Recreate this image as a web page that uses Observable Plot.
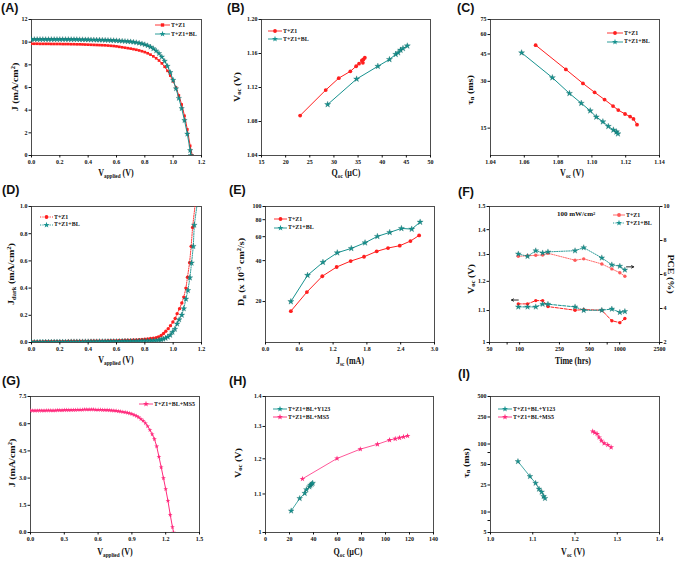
<!DOCTYPE html>
<html><head><meta charset="utf-8">
<script src="https://cdn.jsdelivr.net/npm/d3@7"></script>
<script src="https://cdn.jsdelivr.net/npm/@observablehq/plot@0.6"></script>
<style>
body{margin:0;background:#fff;}
#root{position:relative;width:676px;height:561px;overflow:hidden;background:#fff;font-family:"Liberation Serif","Times New Roman",serif;color:#111}
.lbl{position:absolute;font-weight:bold;font-size:10px;white-space:nowrap;line-height:1}
.lbl sub{font-size:6.5px;vertical-align:-2px}
.lbl sup{font-size:6.5px;vertical-align:4px}
.pl{position:absolute;font-family:"Liberation Sans",Arial,sans-serif;font-weight:bold;font-size:12.5px;line-height:13px}
.leg{position:absolute;font-weight:bold;font-size:7px;white-space:nowrap;line-height:1;display:flex;align-items:center}
.leg sup{font-size:4.5px;vertical-align:3px}
</style></head><body><div id="root"></div><script>
const RED = "#ff1f1f", TEAL = "#17928f", PINK = "#ff2b7d";

// ---------- (A) J-V ----------
const aVolt = [0,0.02,0.04,0.06,0.08,0.1,0.12,0.14,0.16,0.18,0.2,0.22,0.24,0.26,0.28,0.3,0.32,0.34,0.36,0.38,0.4,0.42,0.44,0.46,0.48,0.5,0.52,0.54,0.56,0.58,0.6,0.62,0.64,0.66,0.68,0.7,0.72,0.74,0.76,0.78,0.8,0.82,0.84,0.86,0.88,0.9,0.92,0.94,0.96,0.98,1.0,1.02,1.04,1.06,1.08,1.1,1.12];
const aJ_TZ1 = [9.86,9.86,9.86,9.85,9.85,9.85,9.85,9.84,9.84,9.84,9.84,
  9.83,9.83,9.83,9.82,9.82,9.81,9.81,9.80,9.79,9.78,
  9.77,9.76,9.75,9.74,9.73,9.72,9.70,9.68,9.66,9.63,
  9.59,9.55,9.51,9.47,9.43,9.38,9.33,9.27,9.20,9.12,
  9.02,8.90,8.75,8.58,8.38,8.13,7.83,7.47,7.05,6.55,
  6.00,5.30,4.50,3.50,2.30,0.85];
const aJ_TZ1BL = [10.25,10.25,10.25,10.25,10.25,10.25,10.25,10.25,10.25,10.25,10.25,
  10.25,10.25,10.25,10.24,10.24,10.24,10.23,10.23,10.22,10.22,
  10.21,10.21,10.20,10.20,10.19,10.18,10.17,10.16,10.15,10.14,
  10.12,10.10,10.08,10.06,10.04,10.01,9.97,9.92,9.86,9.79,
  9.70,9.58,9.43,9.24,9.00,8.70,8.33,7.88,7.33,6.65,
  5.90,5.05,4.15,3.10,1.90,0.45];
const aEndTZ1 = [1.135, 0], aEndTZ1BL = [1.125, 0];
const aXTicks = [0,0.2,0.4,0.6,0.8,1.0,1.2], aYTicks = [0,2,4,6,8,10,12];

// ---------- (B) Voc vs Qoc ----------
const bQ_TZ1 = [23.0,28.3,31.0,33.4,34.6,35.2,35.8,36.0,36.1,36.4];
const bV_TZ1 = [1.087,1.117,1.131,1.139,1.145,1.148,1.152,1.149,1.153,1.155];
const bQ_TZ1BL = [28.7,34.7,39.1,41.5,42.8,43.3,43.8,44.3,45.2];
const bV_TZ1BL = [1.100,1.130,1.145,1.153,1.159,1.161,1.164,1.166,1.169];
const bXTicks = [15,20,25,30,35,40,45,50], bYTicks = [1.04,1.08,1.12,1.16,1.20];

// ---------- (C) tau vs Voc ----------
const cV_TZ1 = [1.0667,1.0846,1.0947,1.1016,1.1075,1.1125,1.1156,1.1196,1.1226,1.1246,1.1267];
const cT_TZ1 = [51.3,35.8,29.1,25.5,22.9,20.8,19.6,18.5,17.8,17.2,15.8];
const cV_TZ1BL = [1.0584,1.0766,1.0867,1.0937,1.099,1.1026,1.1065,1.1097,1.1127,1.1145,1.1154];
const cT_TZ1BL = [45.8,31.7,25.1,21.7,19.4,17.7,16.5,15.4,14.6,14.2,13.8];
const cXTicks = [1.04,1.06,1.08,1.10,1.12,1.14], cYTicks = [15,30,45,60,75];

// ---------- (D) dark current ----------
const dVoltFlat = [0,0.02,0.04,0.06,0.08,0.1,0.12,0.14,0.16,0.18,0.2,0.22,0.24,0.26,0.28,0.3,0.32,0.34,0.36,0.38,0.4,0.42,0.44,0.46,0.48,0.5,0.52,0.54,0.56,0.58,0.6,0.62,0.64,0.66,0.68,0.7,0.72,0.74,0.76,0.78,0.8,0.82,0.84,0.86];
const dJFlat_TZ1 = [0.005,0.005,0.006,0.006,0.006,0.007,0.007,0.007,0.007,0.008,0.008,
  0.008,0.008,0.009,0.009,0.009,0.009,0.010,0.010,0.010,0.010,
  0.011,0.011,0.011,0.012,0.012,0.012,0.013,0.013,0.014,0.014,
  0.015,0.015,0.016,0.017,0.017,0.018,0.019,0.020,0.022,0.024,
  0.026,0.029,0.032];
const dJFlat_TZ1BL = [0.002,0.002,0.002,0.003,0.003,0.003,0.003,0.003,0.004,0.004,0.004,
  0.004,0.004,0.004,0.005,0.005,0.005,0.005,0.005,0.006,0.006,
  0.006,0.006,0.006,0.007,0.007,0.007,0.007,0.008,0.008,0.008,
  0.008,0.009,0.009,0.009,0.010,0.010,0.010,0.011,0.011,0.012,
  0.012,0.013,0.014];
const dVoltRise_TZ1 = [0.88,0.896,0.915,0.932,0.948,0.965,0.981,0.998,1.014,1.028,1.045,1.061,1.075,1.09,1.101,1.116,1.127,1.137,1.16];
const dJRise_TZ1 = [0.036,0.041,0.051,0.066,0.083,0.102,0.124,0.151,0.176,0.212,0.249,0.29,0.334,0.4,0.48,0.587,0.707,0.846,1.06];
const dVoltRise_TZ1BL = [0.88,0.9,0.915,0.93,0.946,0.962,0.979,0.995,1.012,1.028,1.042,1.061,1.075,1.09,1.104,1.118,1.13,1.142,1.149,1.175];
const dJRise_TZ1BL = [0.015,0.018,0.022,0.026,0.032,0.041,0.054,0.076,0.098,0.137,0.168,0.202,0.249,0.32,0.383,0.476,0.585,0.707,0.863,1.06];
const dYTicks = [0,0.2,0.4,0.6,0.8,1.0];

// ---------- (E) Dn vs Jsc ----------
const eJ_TZ1 = [0.45,0.735,1.008,1.263,1.512,1.749,1.974,2.175,2.383,2.573,2.727];
const eD_TZ1 = [17.0,23.5,30.7,35.9,39.7,42.7,46.8,49.5,51.5,55.7,61.3];
const eJ_TZ1BL = [0.45,0.747,1.02,1.274,1.523,1.767,1.986,2.205,2.413,2.596,2.745];
const eD_TZ1BL = [20.0,31.2,38.9,45.7,49.2,54.1,60.3,64.5,69.0,68.2,76.8];
const eXTicks = [0,0.6,1.2,1.8,2.4,3.0], eYTicks = [20,40,60,80,100];

// ---------- (F) stability ----------
const fTime = [97,120,145,170,192,358,437,663,835,1004,1127];
const fVoc_TZ1 = [1.122,1.122,1.133,1.133,1.113,1.101,1.103,1.101,1.067,1.061,1.074];
const fVoc_TZ1BL = [1.112,1.112,1.112,1.121,1.121,1.112,1.101,1.101,1.105,1.094,1.097];
const fPCE_TZ1 = [7.07,7.10,7.13,7.15,7.25,6.84,6.92,6.62,6.33,6.10,5.90];
const fPCE_TZ1BL = [7.21,7.07,7.40,7.27,7.33,7.40,7.58,6.98,6.57,6.49,6.27];
const fXTicks = [50,75,100,250,500,750,1000,2500], fVocTicks = [1,1.1,1.2,1.3,1.4,1.5], fPceTicks = [2,4,6,8,10];
const fArrowVoc = [{x1: 97, x2: 83, y: 1.135}];
const fArrowPce = [{x1: 1170, x2: 1380, y: 6.45}];

// ---------- (G) J-V MS5 ----------
const gVolt = [0,0.02,0.04,0.06,0.08,0.1,0.12,0.14,0.16,0.18,0.2,0.22,0.24,0.26,0.28,0.3,0.32,0.34,0.36,0.38,0.4,0.42,0.44,0.46,0.48,0.5,0.52,0.54,0.56,0.58,0.6,0.62,0.64,0.66,0.68,0.7,0.72,0.74,0.76,0.78,0.8,0.82,0.84,0.86,0.88,0.9,0.92,0.94,0.96,0.98,1.0,1.02,1.04,1.06,1.08,1.1,1.12,1.14,1.16,1.18,1.2,1.22,1.24,1.26,1.27];
const gJ_MS5 = [6.72,6.72,6.72,6.72,6.72,6.72,6.72,6.73,6.73,6.73,6.73,
  6.73,6.74,6.74,6.74,6.75,6.75,6.75,6.76,6.76,6.76,
  6.77,6.77,6.77,6.78,6.78,6.78,6.78,6.78,6.77,6.77,
  6.77,6.76,6.76,6.75,6.74,6.73,6.72,6.71,6.69,6.67,
  6.65,6.63,6.60,6.57,6.53,6.48,6.42,6.35,6.26,6.16,
  6.03,5.86,5.65,5.42,5.15,4.75,4.18,3.60,3.00,2.40,
  1.75,0.98,0.30,0];
const gXTicks = [0,0.3,0.6,0.9,1.2,1.5], gYTicks = [0,1.5,3,4.5,6,7.5];

// ---------- (H) Voc vs Qoc ----------
const hQ_Y123 = [21.4,28.5,32.7,34.1,36.6,37.4,38.5,39.3];
const hV_Y123 = [1.055,1.088,1.102,1.112,1.120,1.124,1.127,1.130];
const hQ_MS5 = [30.8,59.6,79.0,93.3,103.4,108.1,111.7,115.0,118.4];
const hV_MS5 = [1.142,1.201,1.229,1.244,1.257,1.261,1.264,1.267,1.270];
const hXTicks = [0,20,40,60,80,100,120,140], hYTicks = [1,1.1,1.2,1.3,1.4];

// ---------- (I) tau vs Voc ----------
const iV_Y123 = [1.065,1.0934,1.1067,1.1148,1.121,1.1257,1.129];
const iT_Y123 = [55.4,33.4,26.6,21.8,19.7,17.0,15.9];
const iV_MS5 = [1.2419,1.2466,1.2523,1.257,1.2625,1.2689,1.2775,1.2855];
const iT_MS5 = [153.6,147,140.8,125.5,112.4,102.6,97.2,89.6];
const iXTicks = [1.0,1.1,1.2,1.3,1.4], iYTicks = [5,7.5,10,25,50,75,100,250,500];

// ================= drawing =================
const root = document.getElementById("root");
const pts = (xs, ys) => xs.map((x, i) => ({x, y: ys[i]}));
const FONT = "'Liberation Serif','Times New Roman',serif";

function mk(fr, opts) {
  const m = 28;
  const [x0, x1, y0, y1] = fr;
  const svg = Plot.plot({
    width: x1 - x0 + 2 * m, height: y1 - y0 + 2 * m,
    marginLeft: m, marginRight: m, marginTop: m, marginBottom: m,
    style: {background: "transparent", overflow: "visible", fontFamily: FONT, fontSize: "6px", fontWeight: "bold", color: "#111"},
    ...opts
  });
  svg.style.position = "absolute";
  svg.style.left = (x0 - m) + "px";
  svg.style.top = (y0 - m) + "px";
  root.append(svg);
}
const ax = (ticks, fmt, o = {}) => Plot.axisX({ticks, tickFormat: fmt, tickSize: 2.5, tickPadding: 2, label: null, fontSize: 6, ...o});
const ay = (ticks, fmt, o = {}) => Plot.axisY({ticks, tickFormat: fmt, tickSize: 2.5, tickPadding: 1.5, label: null, fontSize: 6, ...o});
const frame = () => Plot.frame({stroke: "#222", strokeWidth: 0.8});
const f1 = d3.format(".1f"), f2 = d3.format(".2f"), fd = d => String(d);
const fOne = d => d === 1 ? "1" : d.toFixed(1);

function series(data, color, symbol, r, o = {}) {
  return [
    Plot.line(data, {x: "x", y: "y", stroke: color, strokeWidth: o.sw ?? 1, strokeDasharray: o.dash, clip: true}),
    Plot.dot(data, {x: "x", y: "y", r, symbol, fill: color, stroke: o.ms ?? "none", strokeWidth: 0.3, clip: true})
  ];
}

// (A)
mk([31, 201, 19, 155], {
  x: {domain: [0, 1.2]}, y: {domain: [0, 12]},
  marks: [frame(), ax(aXTicks, f1), ay(aYTicks, fd),
    ...series(pts(aVolt.concat([aEndTZ1[0]]), aJ_TZ1.concat([aEndTZ1[1]])), RED, "square", 1.5),
    ...series(pts(aVolt.concat([aEndTZ1BL[0]]), aJ_TZ1BL.concat([aEndTZ1BL[1]])), TEAL, "star", 1.7, {ms: "#0b5f5c"})]
});
// (B)
mk([261, 430, 19, 155], {
  x: {domain: [15, 50]}, y: {domain: [1.04, 1.20]},
  marks: [frame(), ax(bXTicks, fd), ay(bYTicks, f2),
    ...series(pts(bQ_TZ1, bV_TZ1), RED, "circle", 1.9),
    ...series(pts(bQ_TZ1BL, bV_TZ1BL), TEAL, "star", 1.9, {ms: "#0b5f5c"})]
});
// (C)
mk([490, 659, 19, 155], {
  x: {domain: [1.04, 1.14]}, y: {type: "log", domain: [10, 75]},
  marks: [frame(), ax(cXTicks, f2), ay(cYTicks, fd),
    ...series(pts(cV_TZ1, cT_TZ1), RED, "circle", 1.9),
    ...series(pts(cV_TZ1BL, cT_TZ1BL), TEAL, "star", 1.9, {ms: "#0b5f5c"})]
});
// (D)
mk([31, 201, 206, 342], {
  x: {domain: [0, 1.2]}, y: {domain: [0, 1.0]},
  marks: [frame(), ax(aXTicks, f1), ay(dYTicks, f1),
    ...series(pts(dVoltFlat.concat(dVoltRise_TZ1), dJFlat_TZ1.concat(dJRise_TZ1)), RED, "circle", 1.7, {dash: "1.2,1.2", sw: 0.9}),
    ...series(pts(dVoltFlat.concat(dVoltRise_TZ1BL), dJFlat_TZ1BL.concat(dJRise_TZ1BL)), TEAL, "star", 1.8, {dash: "1.2,1.2", sw: 0.9, ms: "#0b5f5c"})]
});
// (E)
mk([265, 434, 206, 342], {
  x: {domain: [0, 3.0]}, y: {type: "log", domain: [10, 100]},
  marks: [frame(), ax(eXTicks, f1), ay(eYTicks, fd),
    ...series(pts(eJ_TZ1, eD_TZ1), RED, "circle", 1.9),
    ...series(pts(eJ_TZ1BL, eD_TZ1BL), TEAL, "star", 1.9, {ms: "#0b5f5c"})]
});
// (F) left axis Voc (log)
mk([489, 659, 206, 342], {
  x: {type: "log", domain: [50, 2500]}, y: {type: "log", domain: [1.0, 1.5]},
  marks: [frame(), ax(fXTicks, fd), ay(fVocTicks, fOne),
    ...series(pts(fTime, fVoc_TZ1), RED, "circle", 1.7, {dash: "3,1.5", sw: 1}),
    ...series(pts(fTime, fVoc_TZ1BL), TEAL, "star", 1.8, {dash: "3,1.5", sw: 1, ms: "#0b5f5c"}),
    Plot.arrow(fArrowVoc, {x1: "x1", x2: "x2", y1: "y", y2: "y", stroke: "#111", strokeWidth: 0.9, headLength: 4})]
});
// (F) right axis PCE
mk([489, 659, 206, 342], {
  x: {type: "log", domain: [50, 2500], axis: null}, y: {domain: [2, 10]},
  marks: [ay(fPceTicks, fd, {anchor: "right"}),
    ...series(pts(fTime, fPCE_TZ1), "#ff5a5a", "circle", 1.7, {dash: "1.2,1.2", sw: 0.9}),
    ...series(pts(fTime, fPCE_TZ1BL), TEAL, "star", 1.8, {dash: "1.2,1.2", sw: 0.9, ms: "#0b5f5c"}),
    Plot.arrow(fArrowPce, {x1: "x1", x2: "x2", y1: "y", y2: "y", stroke: "#111", strokeWidth: 0.9, headLength: 4})]
});
// (G)
mk([30, 199, 396, 532], {
  x: {domain: [0, 1.5]}, y: {domain: [0, 7.5]},
  marks: [frame(), ax(gXTicks, f1), ay(gYTicks, f1),
    ...series(pts(gVolt, gJ_MS5), PINK, "star", 1.5)]
});
// (H)
mk([265, 433, 396, 532], {
  x: {domain: [0, 140]}, y: {type: "log", domain: [1.0, 1.4]},
  marks: [frame(), ax(hXTicks, fd), ay(hYTicks, fOne),
    ...series(pts(hQ_Y123, hV_Y123), TEAL, "star", 1.8, {sw: 0.8, ms: "#0b5f5c"}),
    ...series(pts(hQ_MS5, hV_MS5), PINK, "star", 1.8, {sw: 0.8})]
});
// (I)
mk([490, 659, 396, 532], {
  x: {domain: [1.0, 1.4]}, y: {type: "log", domain: [5, 500]},
  marks: [frame(), ax(iXTicks, f1), ay(iYTicks, fd),
    ...series(pts(iV_Y123, iT_Y123), TEAL, "star", 1.8, {sw: 0.8, ms: "#0b5f5c"}),
    ...series(pts(iV_MS5, iT_MS5), PINK, "star", 1.8, {sw: 0.8})]
});

// ---------- text overlays ----------
function lbl(html, cx, cy, rot = 0, cls = "lbl") {
  const d = document.createElement("div");
  d.className = cls; d.innerHTML = html;
  d.style.left = cx + "px"; d.style.top = cy + "px";
  d.style.transform = rot ? `translate(-50%,-50%) rotate(${rot}deg) scale(1,0.8)` : "translate(-50%,-50%) scale(0.8,1)";
  root.append(d);
}
function letter(t, x, y) {
  const d = document.createElement("div");
  d.className = "pl"; d.textContent = t; d.style.left = x + "px"; d.style.top = y + "px";
  root.append(d);
}
const symPath = (type, r) => d3.symbol().type(type).size(r * r * Math.PI)();
function legend(x, y, gap, len, items) {
  items.forEach((it, i) => {
    const d = document.createElement("div");
    d.className = "leg";
    d.style.left = x + "px"; d.style.top = (y + i * gap - 4) + "px"; d.style.height = "8px";
    const t = it.sym === "star" ? d3.symbolStar : it.sym === "square" ? d3.symbolSquare : d3.symbolCircle;
    d.innerHTML = `<svg width="${len + 1}" height="8" style="display:block"><line x1="0" x2="${len}" y1="4" y2="4" stroke="${it.c}" stroke-width="0.9" ${it.dash ? `stroke-dasharray="${it.dash}"` : ""}/><path transform="translate(${len / 2},4)" d="${symPath(t, 1.9)}" fill="${it.c}"/></svg><span style="display:inline-block;transform:scale(0.85,1);transform-origin:left center">${it.t}</span>`;
    root.append(d);
  });
}

letter("(A)", 1, 2); letter("(B)", 227, 2); letter("(C)", 457, 2);
letter("(D)", 2, 184); letter("(E)", 229, 184); letter("(F)", 458, 186);
letter("(G)", 2, 375); letter("(H)", 229, 375); letter("(I)", 458, 368);

lbl("V<sub>applied</sub> (V)", 116, 174); lbl("J (mA/cm<sup>2</sup>)", 15, 87, -90);
lbl("Q<sub>oc</sub> (µC)", 346, 174); lbl("V<sub>oc</sub> (V)", 238, 87, -90);
lbl("V<sub>oc</sub> (V)", 572, 174); lbl("τ<sub>n</sub> (ms)", 471, 90, -90);
lbl("V<sub>applied</sub> (V)", 116, 361); lbl("J<sub>dark</sub> (mA/cm<sup>2</sup>)", 12, 274, -90);
lbl("J<sub>sc</sub> (mA)", 350, 362); lbl("D<sub>n</sub> (x 10<sup>-5</sup> cm<sup>2</sup>/s)", 242, 272, -90);
lbl("Time (hrs)", 573, 361); lbl("V<sub>oc</sub> (V)", 472, 279, -90); lbl("PCE (%)", 670, 274, 90);
lbl("V<sub>applied</sub> (V)", 115, 553); lbl("J (mA/cm<sup>2</sup>)", 12, 463, -90);
lbl("Q<sub>oc</sub> (µC)", 348, 553); lbl("V<sub>oc</sub> (V)", 239, 463, -90);
lbl("V<sub>oc</sub> (V)", 573, 553); lbl("τ<sub>n</sub> (ms)", 467, 463, -90);

const lgTZ = [{c: RED, sym: "circle", t: "T+Z1"}, {c: TEAL, sym: "star", t: "T+Z1+BL"}];
legend(155, 25, 9.3, 15, [{c: RED, sym: "square", t: "T+Z1"}, {c: TEAL, sym: "star", t: "T+Z1+BL"}]);
legend(268, 31, 8.3, 14, lgTZ);
legend(607, 33, 8.7, 16, lgTZ);
legend(40, 217, 7.7, 13, [{c: RED, sym: "circle", t: "T+Z1", dash: "1.2,1.2"}, {c: TEAL, sym: "star", t: "T+Z1+BL", dash: "1.2,1.2"}]);
legend(274, 219, 8.7, 13, lgTZ);
legend(613, 215, 8.3, 12, [{c: "#ff5a5a", sym: "circle", t: "T+Z1"}, {c: TEAL, sym: "star", t: "T+Z1+BL", dash: "1.2,1.2"}]);
legend(139, 404, 8, 14, [{c: PINK, sym: "star", t: "T+Z1+BL+MS5"}]);
const lgH = [{c: TEAL, sym: "star", t: "T+Z1+BL+Y123"}, {c: PINK, sym: "star", t: "T+Z1+BL+MS5"}];
legend(273, 409, 8, 14, lgH);
legend(498, 409, 8, 14, lgH);

const note = document.createElement("div");
note.className = "leg"; note.style.left = "557px"; note.style.top = "211px"; note.style.fontSize = "7px";
note.innerHTML = "100 mW/cm<sup>2</sup>";
root.append(note);
</script></body></html>
